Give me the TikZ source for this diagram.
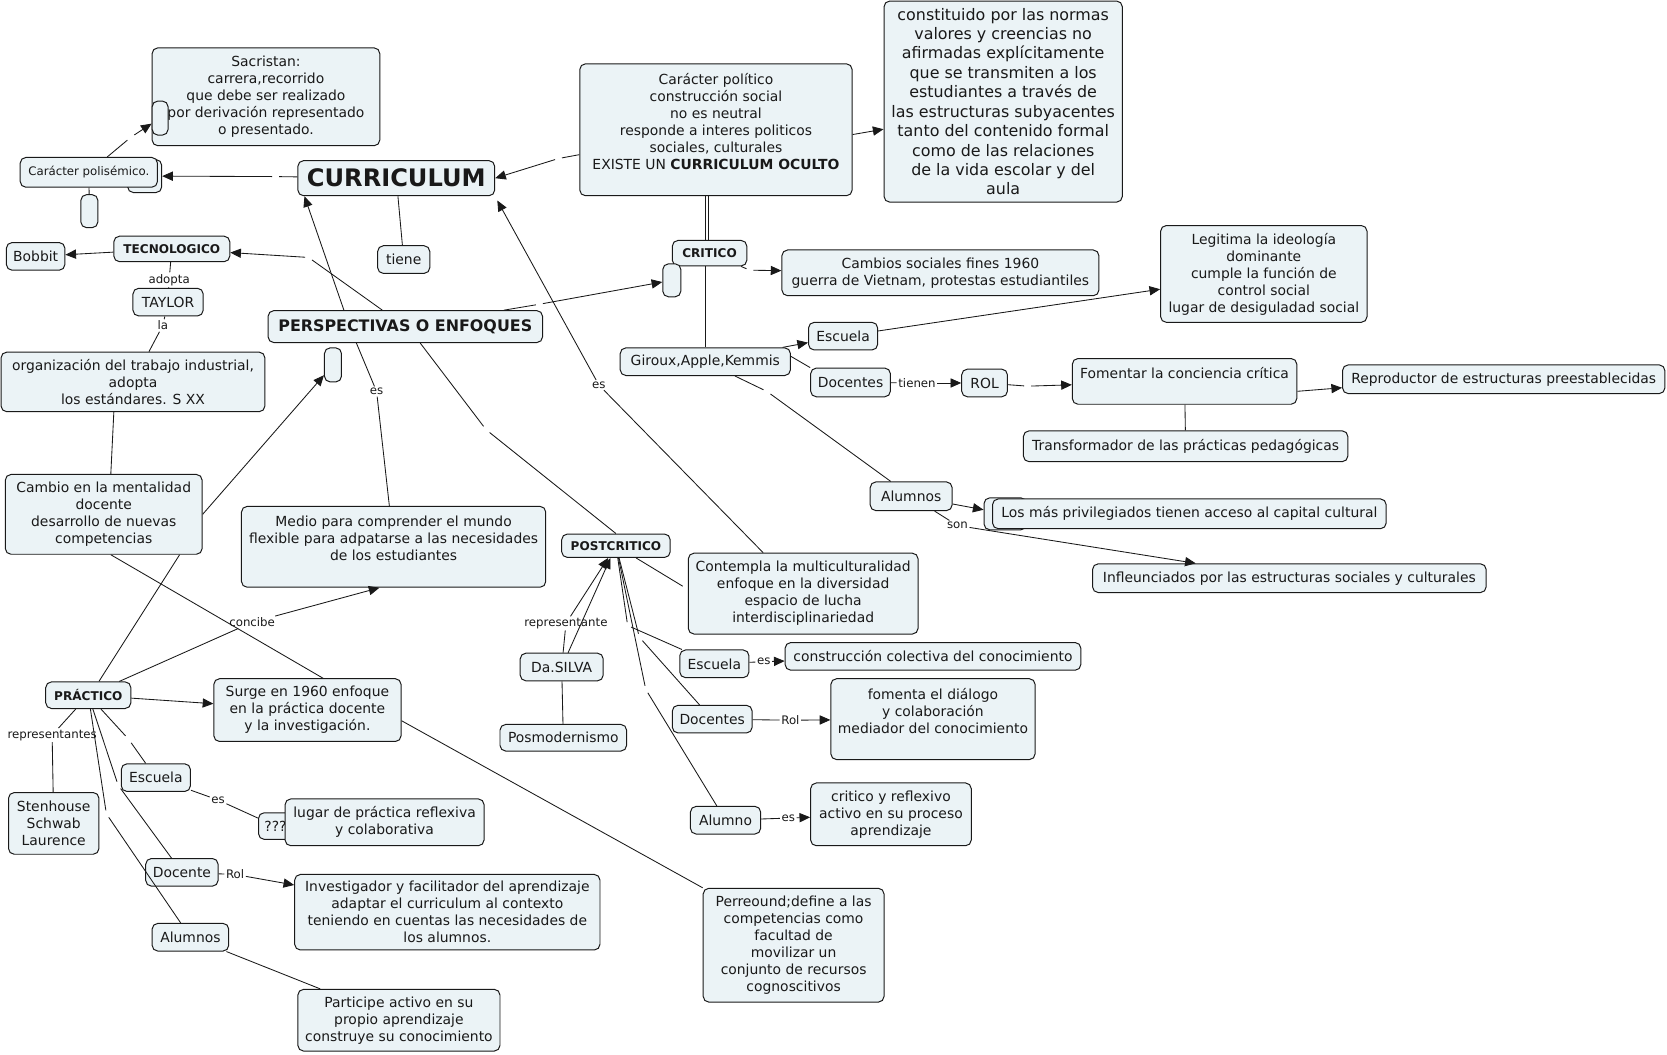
\documentclass[tikz,border=0pt]{standalone}
\usepackage{fontspec}
\setmainfont{DejaVu Sans}
\usepackage{tikz}
\usetikzlibrary{arrows.meta}
\definecolor{mapfill}{RGB}{235,243,246}
\definecolor{mapline}{RGB}{25,25,25}
\newcommand{\fnormal}{\fontsize{9.8}{12}\selectfont}
\newcommand{\fbig}{\fontsize{11.2}{13.7}\selectfont}
\newcommand{\fsmall}{\fontsize{8.3}{10}\selectfont}
\newcommand{\fbold}{\fontsize{8.5}{10}\selectfont\bfseries}
\newcommand{\fcurr}{\fontsize{17}{20}\selectfont\bfseries}
\newcommand{\fpersp}{\fontsize{11.2}{13}\selectfont\bfseries}

\begin{document}
\begin{tikzpicture}[
        x=0.75pt, y=-0.75pt,
        every node/.style={font=\fnormal, text=black!90},
        box/.style={rectangle, draw=mapline, line width=0.7pt, fill=mapfill, rounded corners=4pt, align=center, inner sep=2pt},
        wh/.style 2 args={minimum width=#1*0.75pt, minimum height=#2*0.75pt},
        lbl/.style={font=\fsmall, inner sep=1pt},
        hidlink/.style={inner sep=0pt, minimum size=4.5pt},
        maplink/.style={draw=mapline, line width=0.6pt},
        arr/.style={-{Triangle[length=7.5pt,width=6.5pt]}}
    ]
        \path[use as bounding box, fill=white] (0,0) rectangle (1567,991);

        % CURRICULUM and its definitions
        \node[box, wh={214}{92}] (sacristan) at (250,91) {Sacristan:\\carrera,recorrido\\que debe ser realizado\\por derivación representado\\o presentado.};
        \node[box, wh={15}{32}] (sacdot) at (150.5,111) {};
        \node[box, wh={32}{31}] (poliback) at (136,165.5) {};
        \node[box, font=\fsmall, wh={129}{28}] (polisemico) at (83.5,162) {Carácter polisémico.};
        \node[box, wh={16}{31}] (polidot) at (84,198.5) {};
        \node[box, font=\fcurr, wh={185}{33}] (curriculum) at (372.5,167.5) {CURRICULUM};
        \node[box, wh={49}{26}] (tiene) at (379.5,244) {tiene};
        \node[box, wh={256}{124}] (politico) at (673,122) {Carácter político\\construcción social\\no es neutral\\responde a interes politicos\\sociales, culturales\\EXISTE UN \textbf{CURRICULUM OCULTO}\\~};
        \node[box, font=\fbig, wh={224}{189}] (constituido) at (943,95.5) {constituido por las normas\\valores y creencias no\\afirmadas explícitamente\\que se transmiten a los\\estudiantes a través de\\las estructuras subyacentes\\tanto del contenido formal\\como de las relaciones\\de la vida escolar y del\\aula};

        % CRITICO
        \node[box, font=\fbold, wh={70}{24}] (critico) at (667,238) {CRITICO};
        \node[box, wh={17}{31}] (criticodot) at (631.5,263.5) {};
        \node[box, wh={298}{43}] (cambios) at (884,256.5) {Cambios sociales fines 1960\\guerra de Vietnam, protestas estudiantiles};
        \node[box, wh={194}{91}] (legitima) at (1188,257.5) {Legitima la ideología\\dominante\\cumple la función de\\control social\\lugar de desiguladad social};
        \node[box, wh={65}{26}] (escuelaC) at (792.5,316) {Escuela};
        \node[box, wh={160}{26}] (giroux) at (663,340) {Giroux,Apple,Kemmis};
        \node[box, wh={75}{27}] (docentesC) at (799.5,359.5) {Docentes};
        \node[lbl] (tienen) at (862,360) {tienen};
        \node[box, wh={43}{26}] (rol) at (925.5,360) {ROL};
        \node[box, wh={211}{43}] (fomentar) at (1113.5,358.5) {Fomentar la conciencia crítica\\~};
        \node[box, wh={303}{27}] (reproductor) at (1413.5,356.5) {Reproductor de estructuras preestablecidas};
        \node[box, wh={305}{29}] (transformador) at (1114.5,419.5) {Transformador de las prácticas pedagógicas};
        \node[box, wh={77}{27}] (alumnosC) at (856.5,466.5) {Alumnos};
        \node[lbl] (son) at (900,494) {son};
        \node[box, wh={40}{30}] (losmasback) at (945,483) {};
        \node[box, wh={370}{28}] (losmas) at (1118,483) {Los más privilegiados tienen acceso al capital cultural};
        \node[box, wh={370}{27}] (infle) at (1212,543.5) {Infleunciados por las estructuras sociales y culturales};

        % TECNOLOGICO
        \node[box, font=\fbold, wh={109}{24}] (tecno) at (161.5,234) {TECNOLOGICO};
        \node[box, wh={55}{26}] (bobbit) at (33.5,241) {Bobbit};
        \node[lbl] (adopta) at (159,263) {adopta};
        \node[box, wh={66}{26}] (taylor) at (158,284) {TAYLOR};
        \node[lbl] (la) at (153,306) {la};
        \node[box, wh={248}{56}] (organiz) at (125,359) {organización del trabajo industrial,\\adopta\\los estándares. S XX};
        \node[box, wh={185}{75}] (cambio) at (97.5,483.5) {Cambio en la mentalidad\\docente\\desarrollo de nuevas\\competencias};

        % PERSPECTIVAS
        \node[box, font=\fpersp, wh={258}{30}] (persp) at (381,307) {PERSPECTIVAS O ENFOQUES};
        \node[box, wh={16}{32}] (perspdot) at (313,343) {};
        \node[lbl] (esA) at (354,368) {es};
        \node[box, wh={286}{76}] (medio) at (370,514) {Medio para comprender el mundo\\flexible para adpatarse a las necesidades\\de los estudiantes\\~};
        \node[lbl] (esB) at (563,362) {es};

        % POSTCRITICO
        \node[box, font=\fbold, wh={102}{22}] (postcritico) at (579,513) {POSTCRITICO};
        \node[box, wh={216}{76}] (contempla) at (755,558) {Contempla la multiculturalidad\\enfoque en la diversidad\\espacio de lucha\\interdisciplinariedad};
        \node[lbl] (rep) at (532,586) {representante};
        \node[box, wh={78}{26}] (dasilva) at (528,627) {Da.SILVA};
        \node[box, wh={119}{25}] (posmo) at (529.5,693.5) {Posmodernismo};
        \node[box, wh={65}{26}] (escuelaP) at (671.5,624) {Escuela};
        \node[lbl] (esD) at (718,622) {es};
        \node[box, wh={278}{26}] (construccion) at (877,617) {construcción colectiva del conocimiento};
        \node[box, wh={75}{26}] (docentesP) at (669.5,676) {Docentes};
        \node[lbl] (rolP) at (743,677) {Rol};
        \node[box, wh={192}{76}] (fomenta) at (877,676) {fomenta el diálogo\\y colaboración\\mediador del conocimiento\\~};
        \node[box, wh={66}{26}] (alumnoP) at (682,771) {Alumno};
        \node[lbl] (esE) at (741,769) {es};
        \node[box, wh={151}{59}] (reflexivo) at (837.5,765.5) {critico y reflexivo\\activo en su proceso\\aprendizaje};
        \node[box, wh={170}{107}] (perreound) at (746,888.5) {Perreound;define a las\\competencias como\\facultad de\\movilizar un\\conjunto de recursos\\cognoscitivos};

        % PRÁCTICO
        \node[box, font=\fbold, wh={80}{25}] (practico) at (83,653.5) {PRÁCTICO};
        \node[lbl] (concibe) at (237,585) {concibe};
        \node[lbl] (reps) at (49,691) {representantes};
        \node[box, wh={85}{58}] (stenhouse) at (50.5,774) {Stenhouse\\Schwab\\Laurence};
        \node[box, wh={176}{59}] (surge) at (289,667.5) {Surge en 1960 enfoque\\en la práctica docente\\y la investigación.};
        \node[box, wh={65}{26}] (escuelaPr) at (146.5,731) {Escuela};
        \node[lbl] (esC) at (205,752) {es};
        \node[box, wh={32}{25}] (qq) at (259,776.5) {???};
        \node[box, wh={187}{44}] (lugar) at (361.5,773) {lugar de práctica reflexiva\\y colaborativa};
        \node[box, wh={68}{26}] (docentePr) at (171,820) {Docente};
        \node[lbl] (rolPr) at (221,822) {Rol};
        \node[box, wh={287}{71}] (investigador) at (420.5,857.5) {Investigador y facilitador del aprendizaje\\adaptar el curriculum al contexto\\teniendo en cuentas las necesidades de\\los alumnos.};
        \node[box, wh={72}{26}] (alumnosPr) at (179,881) {Alumnos};
        \node[box, wh={190}{58}] (participe) at (375,959) {Participe activo en su\\propio aprendizaje\\construye su conocimiento};

        % empty link phrases (gaps in the lines)
        \node[hidlink] (h1) at (123,129) {};
        \node[hidlink] (h2) at (259,166) {};
        \node[hidlink] (h3) at (525,149) {};
        \node[hidlink] (h4) at (705,254) {};
        \node[hidlink] (h5) at (507,286) {};
        \node[hidlink] (h6) at (290,242) {};
        \node[hidlink] (h7) at (457,404) {};
        \node[hidlink] (h8) at (121,695) {};
        \node[hidlink] (h9) at (111,738) {};
        \node[hidlink] (h10) at (100,765) {};
        \node[hidlink] (h11) at (645,553) {};
        \node[hidlink] (hA) at (590,588) {};
        \node[hidlink] (hB) at (601,599) {};
        \node[hidlink] (hC) at (607,648) {};
        \node[hidlink] (hD) at (721,368) {};
        \node[hidlink] (hE) at (966,363) {};

        % connectors
        \draw[maplink] (polisemico) -- (h1);
        \draw[maplink, arr] (h1) -- (sacdot);
        \draw[maplink] (polisemico) -- (polidot);
        \draw[maplink] (curriculum) -- (h2);
        \draw[maplink, arr] (h2) -- (poliback);
        \draw[maplink] (curriculum) -- (tiene);
        \draw[maplink] (politico) -- (h3);
        \draw[maplink, arr] (h3) -- (curriculum.east);
        \draw[maplink, arr] (politico.-2) -- (constituido.193);
        \draw[maplink] ([xshift=-7.5pt]politico.south) -- ([xshift=-3pt]critico.north);
        \draw[maplink] ([xshift=-5.25pt]politico.south) -- ([xshift=-0.75pt]critico.north);
        \draw[maplink] ([xshift=-3pt]critico.south) -- (giroux.north);
        \draw[maplink] (critico) -- (h4);
        \draw[maplink, arr] (h4) -- (cambios);
        \draw[maplink] (persp) -- (h5);
        \draw[maplink, arr] (h5) -- (criticodot);
        \draw[maplink] (persp) -- (h6);
        \draw[maplink, arr] (h6) -- (tecno);
        \draw[maplink, arr] (persp.165) -- ([xshift=5pt]curriculum.south west);
        \draw[maplink] ([xshift=-34.5pt]persp.south) -- (esA);
        \draw[maplink] (esA) -- ([xshift=-3pt]medio.north);
        \draw[maplink] ([xshift=10.5pt]persp.south) -- (h7);
        \draw[maplink] (h7) -- (postcritico.north);
        \draw[maplink] (contempla) -- (esB);
        \draw[maplink, arr] (esB) -- ([xshift=1.5pt,yshift=-3pt]curriculum.south east);
        \draw[maplink, arr] (cambio.east) -- (perspdot);
        \draw[maplink] ([xshift=-13.5pt]organiz.south) -- ([xshift=5pt]cambio.north);
        \draw[maplink] (tecno) -- (adopta);
        \draw[maplink] (adopta) -- (taylor);
        \draw[maplink] (taylor) -- (la);
        \draw[maplink] (la) -- (organiz);
        \draw[maplink, arr] (tecno) -- (bobbit);

        \draw[maplink] ([xshift=7.5pt]practico.north) -- ([xshift=53.5pt]cambio.south);
        \draw[maplink] ([xshift=5pt]cambio.south) -- ([xshift=11pt]surge.north);
        \draw[maplink] ([yshift=-7.5pt]surge.east) -- (perreound.north west);
        \draw[maplink] (practico) -- (concibe);
        \draw[maplink, arr] (concibe) -- ([xshift=-10pt]medio.south);
        \draw[maplink, arr] (practico) -- (surge);
        \draw[maplink] (practico) -- (reps);
        \draw[maplink] (reps) -- (stenhouse);
        \draw[maplink] (practico) -- (h8);
        \draw[maplink] (h8) -- (escuelaPr);
        \draw[maplink] (practico) -- (h9);
        \draw[maplink] (h9) -- (docentePr);
        \draw[maplink] (practico) -- (h10);
        \draw[maplink] (h10) -- (alumnosPr);
        \draw[maplink] (escuelaPr) -- (esC);
        \draw[maplink] (esC) -- (qq);
        \draw[maplink] (docentePr) -- (rolPr);
        \draw[maplink, arr] (rolPr) -- (investigador);
        \draw[maplink] (alumnosPr) -- (participe);

        \draw[maplink] (dasilva) -- (rep);
        \draw[maplink, arr] (rep) -- (postcritico);
        \draw[maplink, arr] (dasilva) -- (postcritico);
        \draw[maplink] (dasilva) -- (posmo);
        \draw[maplink] (postcritico) -- (h11);
        \draw[maplink] (postcritico) -- (hA);
        \draw[maplink] (hA) -- (escuelaP);
        \draw[maplink] (postcritico) -- (hB);
        \draw[maplink] (hB) -- (docentesP);
        \draw[maplink] (postcritico) -- (hC);
        \draw[maplink] (hC) -- (alumnoP);
        \draw[maplink] (escuelaP) -- (esD);
        \draw[maplink, arr] (esD) -- (construccion);
        \draw[maplink] (docentesP) -- (rolP);
        \draw[maplink, arr] (rolP) -- (fomenta);
        \draw[maplink] (alumnoP) -- (esE);
        \draw[maplink, arr] (esE) -- (reflexivo);

        \draw[maplink, arr] (giroux) -- (escuelaC);
        \draw[maplink] ([yshift=3.75pt]giroux.east) -- (docentesC.north west);
        \draw[maplink] (giroux) -- (hD);
        \draw[maplink] (hD) -- (alumnosC);
        \draw[maplink, arr] (escuelaC) -- (legitima);
        \draw[maplink] (docentesC) -- (tienen);
        \draw[maplink, arr] (tienen) -- (rol);
        \draw[maplink] (rol) -- (hE);
        \draw[maplink, arr] (hE) -- (fomentar);
        \draw[maplink, arr] ([yshift=-7pt]fomentar.east) -- ([yshift=-6pt]reproductor.west);
        \draw[maplink] (fomentar) -- (transformador);
        \draw[maplink, arr] (alumnosC) -- (losmasback);
        \draw[maplink] (alumnosC) -- (son);
        \draw[maplink, arr] (son) -- (infle);
    \end{tikzpicture}
\end{document}
